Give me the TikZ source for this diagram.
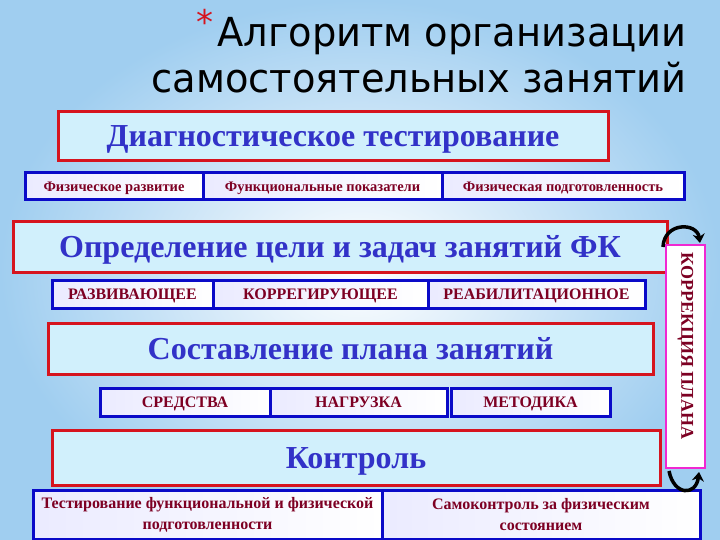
\documentclass[tikz,border=0pt]{standalone}
\usepackage{fontspec}
\setmainfont{Liberation Serif}
\newfontfamily\titlefont{DejaVu Sans}
\usetikzlibrary{arrows.meta}

\definecolor{bgblue}{RGB}{160,206,240}
\definecolor{boxred}{RGB}{214,20,30}
\definecolor{rowblue}{RGB}{10,10,200}
\definecolor{headblue}{RGB}{50,50,200}
\definecolor{wine}{RGB}{125,0,35}
\definecolor{pinkline}{RGB}{240,40,210}

\begin{document}
\begin{tikzpicture}[x=1pt, y=-1pt,
    mainbox/.style={draw=boxred, line width=3pt, fill=cyan!18, inner sep=0pt,
      text=headblue, text height=25pt, text depth=4pt,
      font=\bfseries\fontsize{32}{34}\selectfont},
    cellbase/.style={draw=rowblue, line width=3pt, left color=blue!8, right color=white,
      inner sep=0pt, text=wine},
    subcell/.style={cellbase, text height=12.5pt, text depth=2pt,
      font=\bfseries\fontsize{16}{18}\selectfont},
    sidebox/.style={draw=pinkline, line width=2.5pt, fill=white, inner sep=0pt},
    sidetext/.style={text=wine, inner sep=0pt, font=\bfseries\fontsize{18}{20}\selectfont},
    headline/.style={anchor=east, xscale=0.96, font=\titlefont\fontsize{40}{40}\selectfont},
    turn/.style={line width=3.5pt, -{Stealth[length=9pt,width=12pt]}}]

    % 1. Page and background
    \useasboundingbox (0,0) rectangle (720,540);
    \shade[inner color=white, outer color=bgblue] (0,0) rectangle (720,540);

    % 2. Title
    \node[text=boxred, inner sep=0pt, font=\titlefont\fontsize{34}{34}\selectfont] (star) at (205,22) {*};
    \node[headline] (title1) at (690,36) {Алгоритм организации};
    \node[headline] (title2) at (690,78) {самостоятельных занятий};

    % 3. Diagnostics
    \node[mainbox, minimum width=550, minimum height=49] (diag) at (333,136) {Диагностическое тестирование};
    \node[subcell, font=\bfseries\fontsize{14.5}{16}\selectfont, minimum width=178, minimum height=27] (phys) at (114,186.5) {Физическое развитие};
    \node[subcell, font=\bfseries\fontsize{14.5}{16}\selectfont, minimum width=239, minimum height=27] (func) at (322.5,186.5) {Функциональные показатели};
    \node[subcell, font=\bfseries\fontsize{14.5}{16}\selectfont, minimum width=242, minimum height=27] (prep) at (563,186.5) {Физическая подготовленность};

    % 4. Aims and tasks
    \node[mainbox, minimum width=654, minimum height=50] (aim) at (340,247) {Определение цели и задач занятий ФК};
    \node[subcell, minimum width=161, minimum height=28] (dev) at (132.5,294) {РАЗВИВАЮЩЕЕ};
    \node[subcell, minimum width=215, minimum height=28] (corr) at (320.5,294) {КОРРЕГИРУЮЩЕЕ};
    \node[subcell, minimum width=217, minimum height=28] (rehab) at (536.5,294) {РЕАБИЛИТАЦИОННОЕ};

    % 5. Plan
    \node[mainbox, minimum width=605, minimum height=51] (plan) at (350.5,348.5) {Составление плана занятий};
    \node[subcell, minimum width=170, minimum height=28] (means) at (185,402) {СРЕДСТВА};
    \node[subcell, minimum width=177, minimum height=28] (load) at (358.5,402) {НАГРУЗКА};
    \node[subcell, minimum width=159, minimum height=28] (method) at (530.5,402) {МЕТОДИКА};

    % 6. Control
    \node[mainbox, minimum width=608, minimum height=55] (ctrl) at (356,457.5) {Контроль};
    \node[cellbase, minimum width=349, minimum height=49, align=center,
      font=\bfseries\fontsize{16}{21}\selectfont] (test) at (207.5,515)
      {Тестирование функциональной и физической\\подготовленности};
    \node[cellbase, minimum width=318, minimum height=49, align=center,
      font=\bfseries\fontsize{16}{21}\selectfont] (self) at (541,515)
      {Самоконтроль за физическим\\состоянием};

    % 7. Correction of the plan
    \node[sidebox, minimum width=39, minimum height=223] (fix) at (685.5,356.5) {};
    \node[sidetext, rotate=-90] (fixtext) at (685.5,346) {КОРРЕКЦИЯ ПЛАНА};
    \coordinate (upA) at (663,247);
    \coordinate (upB) at (700,243);
    \coordinate (dnA) at (669,471);
    \coordinate (dnB) at (699,472);
    \draw[turn] (upA) .. controls (664,222) and (697,222) .. (upB);
    \draw[turn] (dnA) .. controls (674,496) and (696,496) .. (dnB);

\end{tikzpicture}
\end{document}
